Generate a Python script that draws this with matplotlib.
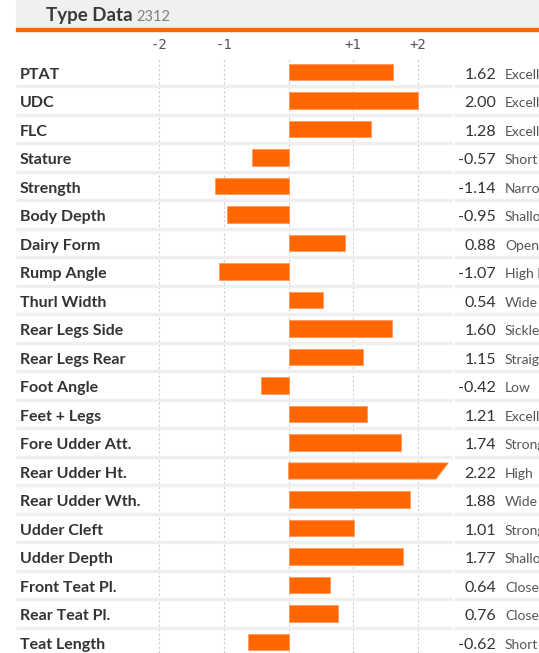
import matplotlib
matplotlib.use("Agg")
import matplotlib.pyplot as plt
from matplotlib.patches import Polygon, Rectangle
import numpy as np

# data
traits = ["PTAT", "UDC", "FLC", "Stature", "Strength", "Body Depth", "Dairy Form",
          "Rump Angle", "Thurl Width", "Rear Legs Side", "Rear Legs Rear", "Foot Angle",
          "Feet + Legs", "Fore Udder Att.", "Rear Udder Ht.", "Rear Udder Wth.",
          "Udder Cleft", "Udder Depth", "Front Teat Pl.", "Rear Teat Pl.", "Teat Length"]
values = [1.62, 2.00, 1.28, -0.57, -1.14, -0.95, 0.88, -1.07, 0.54, 1.60, 1.15, -0.42,
          1.21, 1.74, 2.22, 1.88, 1.01, 1.77, 0.64, 0.76, -0.62]
descr = ["Excellent", "Excellent", "Excellent", "Short", "Narrow", "Shallow", "Open",
         "High Pins", "Wide", "Sickled", "Straight", "Low", "Excellent", "Strong", "High",
         "Wide", "Strong", "Shallow", "Close", "Close", "Short"]
ticks = [-2, -1, 1, 2]
tick_labels = ["-2", "-1", "+1", "+2"]

ORANGE = "#ff6600"
W, H = 539, 653
fig = plt.figure(figsize=(W / 100, H / 100), dpi=100)

def px(x):
    return x / W

def py(y):
    return 1 - y / H

FONT = ["Lato", "DejaVu Sans"]

# header band
fig.patches.append(Rectangle((px(16), py(28)), 1 - px(16), 28 / H, transform=fig.transFigure,
                             color="#f0f0f0", zorder=0))
fig.patches.append(Rectangle((px(16), py(31)), 1 - px(16), 3 / H, transform=fig.transFigure,
                             color=ORANGE, zorder=1))
t = fig.text(px(46), py(21), "Type Data", fontsize=13.5, fontweight="bold", color="#3a3a3a",
             family=FONT, va="baseline")
fig.canvas.draw()
bb = t.get_window_extent()
fig.text(bb.x1 / W + px(4), py(21), "2312", fontsize=10.5, color="#808080",
         family=FONT, va="baseline")

# main axes spans full width
scale = 64.7
zero = 288.5
ax = fig.add_axes([0, 0, 1, py(58)])
ax.set_xlim(-zero / scale, (W - zero) / scale)
n = len(traits)
row_h = 28.5
ax.set_ylim(n - 1 + (H - 642) / row_h, (58 - 72) / row_h)
ax.axis("off")

y = np.arange(n)
for g in [-2, -1, 0, 1, 2]:
    ax.axvline(g, color="#cccccc", lw=0.8, ls=(0, (2, 2)), zorder=1)

vmax = 2.2
bh = 0.57
for yi, v in zip(y, values):
    if v > vmax:
        # bar past the scale: cut with a slanted end
        cap = 2.47
        poly = Polygon([(0, yi - bh / 2), (cap, yi - bh / 2), (cap - 0.19, yi + bh / 2),
                        (0, yi + bh / 2)], closed=True, facecolor=ORANGE,
                       edgecolor="#ff9a5c", lw=0.6, zorder=3)
        ax.add_patch(poly)
    else:
        ax.barh(yi, v, height=bh, color=ORANGE, edgecolor="#ff9a5c", lw=0.6, zorder=3)

# row separators
tr = ax.get_yaxis_transform()
for yi in y[:-1]:
    ax.plot([px(16), px(452)], [yi + 0.5, yi + 0.5], transform=tr,
            color="#efefef", lw=2.5, solid_capstyle="butt", zorder=2)
    ax.plot([px(454), 1], [yi + 0.5, yi + 0.5], transform=tr,
            color="#efefef", lw=2.5, solid_capstyle="butt", zorder=2)

base = 0.24
for yi, name, v, d in zip(y, traits, values, descr):
    ax.text(px(20), yi + base, name, transform=tr, fontsize=11.5, fontweight="bold",
            color="#333333", family=FONT, va="baseline", ha="left")
    ax.text(px(496), yi + base, f"{v:.2f}", transform=tr, fontsize=11.5, color="#333333",
            family=FONT, va="baseline", ha="right")
    ax.text(px(505), yi + base, d, transform=tr, fontsize=10, color="#555555",
            family=FONT, va="baseline", ha="left", clip_on=False)

for tk, tl in zip(ticks, tick_labels):
    fig.text(ax.transData.transform((tk, 0))[0] / W, py(45), tl, fontsize=10,
             color="#555555", family="DejaVu Sans Mono", ha="center", va="center")

fig.savefig("out.png", dpi=100)
